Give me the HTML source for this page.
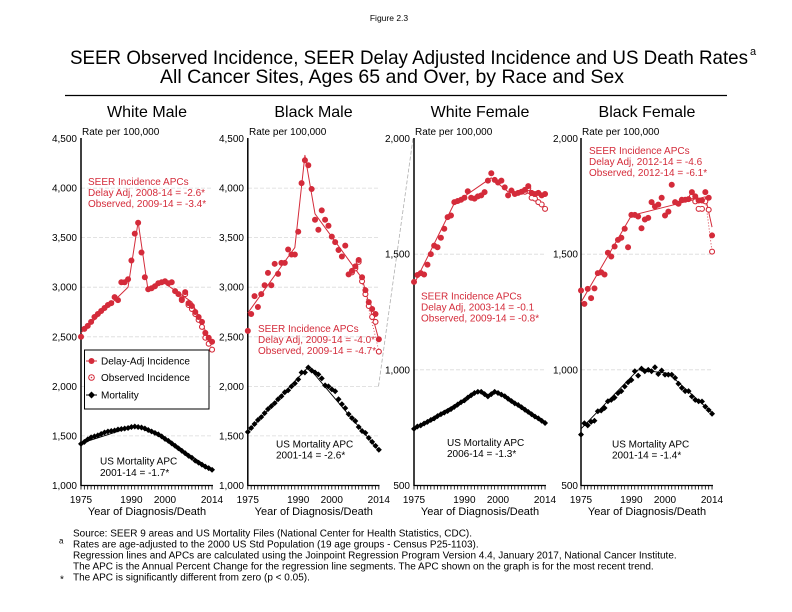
<!DOCTYPE html>
<html><head><meta charset="utf-8"><style>
html,body{margin:0;padding:0;background:#fff;}
svg{display:block;font-family:"Liberation Sans",Arial,sans-serif;}
.r{fill:#d42b3a}
.d{fill:none;stroke-linecap:round;vector-effect:non-scaling-stroke}
.q{fill:none;stroke-linecap:square;vector-effect:non-scaling-stroke}
.l{fill:none;vector-effect:non-scaling-stroke;stroke-linejoin:round}
.g{stroke:#d9d9d9;stroke-width:0.8;stroke-dasharray:4 2}
</style></head><body>
<svg width="792" height="612" viewBox="0 0 792 612" xmlns="http://www.w3.org/2000/svg">
<rect width="792" height="612" fill="#fff"/>
<text x="389" y="21" font-size="8.5" text-anchor="middle">Figure 2.3</text>
<text x="70" y="64" font-size="19.5" textLength="678" lengthAdjust="spacingAndGlyphs">SEER Observed Incidence, SEER Delay Adjusted Incidence and US Death Rates</text>
<text x="750" y="55" font-size="11">a</text>
<text x="392" y="83" font-size="19.5" text-anchor="middle">All Cancer Sites, Ages 65 and Over, by Race and Sex</text>
<line x1="65" y1="95.5" x2="727" y2="95.5" stroke="#000" stroke-width="1.2"/>

<!-- ============ PANEL 1 White Male ============ -->
<text x="147" y="117" font-size="16" text-anchor="middle">White Male</text>
<text x="82" y="135" font-size="10">Rate per 100,000</text>
<g font-size="10" text-anchor="end">
<text x="77" y="142">4,500</text><text x="77" y="191.6">4,000</text><text x="77" y="241.1">3,500</text><text x="77" y="290.7">3,000</text><text x="77" y="340.3">2,500</text><text x="77" y="389.9">2,000</text><text x="77" y="439.4">1,500</text><text x="77" y="489">1,000</text>
</g>
<g class="g"><line x1="81" x2="213" y1="188.1" y2="188.1"/><line x1="81" x2="213" y1="237.6" y2="237.6"/><line x1="81" x2="213" y1="287.2" y2="287.2"/><line x1="81" x2="213" y1="336.8" y2="336.8"/><line x1="81" x2="213" y1="386.4" y2="386.4"/><line x1="81" x2="213" y1="435.9" y2="435.9"/></g>
<line x1="81" y1="138" x2="81" y2="486" stroke="#000" stroke-width="1.5"/>
<line x1="81" y1="485.5" x2="213" y2="485.5" stroke="#000" stroke-width="1.2"/>
<line x1="80.6" y1="487.5" x2="213.4" y2="487.5" stroke="#000" stroke-width="4" stroke-dasharray="0.8 2.56"/>
<g font-size="10" text-anchor="middle"><text x="81" y="503">1975</text><text x="131.4" y="503">1990</text><text x="165" y="503">2000</text><text x="212" y="503">2014</text></g>
<text x="147" y="515" font-size="11" text-anchor="middle">Year of Diagnosis/Death</text>
<g font-size="10" class="r"><text x="88" y="185">SEER Incidence APCs</text><text x="88" y="196">Delay Adj, 2008-14 = -2.6*</text><text x="88" y="207">Observed, 2009-14 = -3.4*</text></g>
<g font-size="10"><text x="100" y="464.5">US Mortality APC</text><text x="100" y="476">2001-14 = -1.7*</text></g>
<g transform="translate(-6555,584.64) scale(3.36,-0.099143)">
<path class="l" stroke="#d42b3a" stroke-width="1" d="M1975 2540L1989 3000L1992 3660L1995 2960L1999 3060L2008 2850L2014 2420"/>
<path class="l" stroke="#d42b3a" stroke-width="0.8" stroke-dasharray="1 2" d="M2009 2740L2014 2380"/>
<path class="l" stroke="#000" stroke-width="0.9" d="M1975 1425L1990 1590L1993 1585L2001 1450L2014 1160"/>
<path class="d" stroke="#d42b3a" stroke-width="6" d="M2005 2870h.01M2006 2930h.01M2007 2820h.01M2008 2780h.01M2009 2730h.01M2010 2670h.01M2011 2600h.01M2012 2490h.01M2013 2430h.01M2014 2370h.01"/>
<path class="d" stroke="#fff" stroke-width="3.8" d="M2005 2870h.01M2006 2930h.01M2007 2820h.01M2008 2780h.01M2009 2730h.01M2010 2670h.01M2011 2600h.01M2012 2490h.01M2013 2430h.01M2014 2370h.01"/>
<path class="d" stroke="#d42b3a" stroke-width="6" d="M1975 2500h.01M1976 2580h.01M1977 2610h.01M1978 2650h.01M1979 2700h.01M1980 2730h.01M1981 2760h.01M1982 2790h.01M1983 2820h.01M1984 2840h.01M1985 2900h.01M1986 2870h.01M1987 3050h.01M1988 3050h.01M1989 3080h.01M1990 3270h.01M1991 3540h.01M1992 3650h.01M1993 3350h.01M1994 3100h.01M1995 2980h.01M1996 2990h.01M1997 3010h.01M1998 3040h.01M1999 3050h.01M2000 3060h.01M2001 3040h.01M2002 3050h.01M2003 2960h.01M2004 2930h.01M2005 2880h.01M2006 2950h.01M2007 2840h.01M2008 2810h.01M2009 2750h.01M2010 2700h.01M2011 2650h.01M2012 2540h.01M2013 2490h.01M2014 2450h.01"/>
<path class="q" stroke="#000" stroke-width="4.2" d="M1975 1420l.01 .339M1976 1440l.01 .339M1977 1465l.01 .339M1978 1485l.01 .339M1979 1495l.01 .339M1980 1505l.01 .339M1981 1520l.01 .339M1982 1535l.01 .339M1983 1545l.01 .339M1984 1550l.01 .339M1985 1555l.01 .339M1986 1565l.01 .339M1987 1570l.01 .339M1988 1575l.01 .339M1989 1580l.01 .339M1990 1590l.01 .339M1991 1595l.01 .339M1992 1590l.01 .339M1993 1585l.01 .339M1994 1575l.01 .339M1995 1560l.01 .339M1996 1545l.01 .339M1997 1530l.01 .339M1998 1515l.01 .339M1999 1495l.01 .339M2000 1470l.01 .339M2001 1450l.01 .339M2002 1425l.01 .339M2003 1400l.01 .339M2004 1375l.01 .339M2005 1350l.01 .339M2006 1325l.01 .339M2007 1300l.01 .339M2008 1280l.01 .339M2009 1250l.01 .339M2010 1230l.01 .339M2011 1210l.01 .339M2012 1190l.01 .339M2013 1175l.01 .339M2014 1158l.01 .339"/>
</g>
<!-- legend -->
<rect x="84.5" y="350" width="124.5" height="59" fill="#fff" stroke="#000" stroke-width="1"/>
<line x1="86" y1="361" x2="97" y2="361" stroke="#d42b3a" stroke-width="1"/>
<circle cx="91.5" cy="361" r="3" fill="#d42b3a"/>
<circle cx="91.5" cy="377.5" r="2.8" fill="#fff" stroke="#d42b3a" stroke-width="1"/>
<circle cx="91.5" cy="377.5" r="0.8" fill="#d42b3a"/>
<line x1="86" y1="395" x2="97" y2="395" stroke="#000" stroke-width="1"/>
<path d="M91.5 391.5L95 395L91.5 398.5L88 395Z" fill="#000"/>
<g font-size="10"><text x="101" y="364.5">Delay-Adj Incidence</text><text x="101" y="381">Observed Incidence</text><text x="101" y="398.5">Mortality</text></g>

<!-- ============ PANEL 2 Black Male ============ -->
<text x="313.5" y="117" font-size="16" text-anchor="middle">Black Male</text>
<text x="249" y="135" font-size="10">Rate per 100,000</text>
<g font-size="10" text-anchor="end">
<text x="244" y="142">4,500</text><text x="244" y="191.6">4,000</text><text x="244" y="241.1">3,500</text><text x="244" y="290.7">3,000</text><text x="244" y="340.3">2,500</text><text x="244" y="389.9">2,000</text><text x="244" y="439.4">1,500</text><text x="244" y="489">1,000</text>
</g>
<g class="g"><line x1="248" x2="379" y1="188.1" y2="188.1"/><line x1="248" x2="379" y1="237.6" y2="237.6"/><line x1="248" x2="379" y1="287.2" y2="287.2"/><line x1="248" x2="379" y1="336.8" y2="336.8"/><line x1="248" x2="379" y1="386.4" y2="386.4"/><line x1="248" x2="379" y1="435.9" y2="435.9"/></g>
<line x1="378.5" y1="386.4" x2="413" y2="138.5" stroke="#b0b0b0" stroke-width="0.8" stroke-dasharray="4 2"/>
<line x1="247.8" y1="138" x2="247.8" y2="486" stroke="#000" stroke-width="1.5"/>
<line x1="247.8" y1="485.5" x2="379.5" y2="485.5" stroke="#000" stroke-width="1.2"/>
<line x1="247.4" y1="487.5" x2="380.2" y2="487.5" stroke="#000" stroke-width="4" stroke-dasharray="0.8 2.56"/>
<g font-size="10" text-anchor="middle"><text x="247.8" y="503">1975</text><text x="298.2" y="503">1990</text><text x="331.8" y="503">2000</text><text x="378.8" y="503">2014</text></g>
<text x="313.8" y="515" font-size="11" text-anchor="middle">Year of Diagnosis/Death</text>
<g font-size="10" class="r"><text x="258" y="332">SEER Incidence APCs</text><text x="258" y="343">Delay Adj, 2009-14 = -4.0*</text><text x="258" y="354">Observed, 2009-14 = -4.7*</text></g>
<g font-size="10"><text x="276" y="447.5">US Mortality APC</text><text x="276" y="458.5">2001-14 = -2.6*</text></g>
<g transform="translate(-6388.2,584.64) scale(3.36,-0.099143)">
<path class="l" stroke="#d42b3a" stroke-width="1" d="M1975 2740L1989 3400L1992 4330L1995 3740L2009 3090L2014 2470"/>
<path class="l" stroke="#d42b3a" stroke-width="0.8" stroke-dasharray="1 2" d="M2009 3060L2014 2360"/>
<path class="l" stroke="#000" stroke-width="0.9" d="M1975 1545L1993 2195L2014 1355"/>
<path class="d" stroke="#d42b3a" stroke-width="6" d="M2006 3150h.01M2007 3190h.01M2008 3255h.01M2009 3060h.01M2010 2930h.01M2011 2810h.01M2012 2700h.01M2013 2650h.01M2014 2350h.01"/>
<path class="d" stroke="#fff" stroke-width="3.8" d="M2006 3150h.01M2007 3190h.01M2008 3255h.01M2009 3060h.01M2010 2930h.01M2011 2810h.01M2012 2700h.01M2013 2650h.01M2014 2350h.01"/>
<path class="d" stroke="#d42b3a" stroke-width="6" d="M1975 2560h.01M1976 2730h.01M1977 2910h.01M1978 2800h.01M1979 2930h.01M1980 3020h.01M1981 3145h.01M1982 3020h.01M1983 3236h.01M1984 3135h.01M1985 3245h.01M1986 3245h.01M1987 3380h.01M1988 3330h.01M1989 3330h.01M1990 3560h.01M1991 4050h.01M1992 4280h.01M1993 4230h.01M1994 3990h.01M1995 3680h.01M1996 3580h.01M1997 3775h.01M1998 3680h.01M1999 3620h.01M2000 3510h.01M2001 3455h.01M2002 3375h.01M2003 3310h.01M2004 3420h.01M2005 3130h.01M2006 3165h.01M2007 3210h.01M2008 3275h.01M2009 3100h.01M2010 2970h.01M2011 2850h.01M2012 2780h.01M2013 2730h.01M2014 2475h.01"/>
<path class="q" stroke="#000" stroke-width="4.2" d="M1975 1540l.01 .339M1976 1580l.01 .339M1977 1620l.01 .339M1978 1660l.01 .339M1979 1690l.01 .339M1980 1730l.01 .339M1981 1770l.01 .339M1982 1800l.01 .339M1983 1830l.01 .339M1984 1870l.01 .339M1985 1900l.01 .339M1986 1940l.01 .339M1987 1960l.01 .339M1988 2000l.01 .339M1989 2030l.01 .339M1990 2070l.01 .339M1991 2140l.01 .339M1992 2140l.01 .339M1993 2190l.01 .339M1994 2160l.01 .339M1995 2140l.01 .339M1996 2120l.01 .339M1997 2080l.01 .339M1998 2010l.01 .339M1999 2000l.01 .339M2000 1970l.01 .339M2001 1950l.01 .339M2002 1870l.01 .339M2003 1820l.01 .339M2004 1780l.01 .339M2005 1720l.01 .339M2006 1680l.01 .339M2007 1650l.01 .339M2008 1590l.01 .339M2009 1550l.01 .339M2010 1530l.01 .339M2011 1480l.01 .339M2012 1440l.01 .339M2013 1400l.01 .339M2014 1360l.01 .339"/>
</g>

<!-- ============ PANEL 3 White Female ============ -->
<text x="480" y="117" font-size="16" text-anchor="middle">White Female</text>
<text x="415" y="135" font-size="10">Rate per 100,000</text>
<g font-size="10" text-anchor="end"><text x="410" y="142">2,000</text><text x="410" y="257.7">1,500</text><text x="410" y="373.3">1,000</text><text x="410" y="489">500</text></g>
<g class="g"><line x1="414" x2="546" y1="254.2" y2="254.2"/><line x1="414" x2="546" y1="369.8" y2="369.8"/></g>
<line x1="414" y1="138" x2="414" y2="486" stroke="#000" stroke-width="1.5"/>
<line x1="414" y1="485.5" x2="546" y2="485.5" stroke="#000" stroke-width="1.2"/>
<line x1="413.6" y1="487.5" x2="546.4" y2="487.5" stroke="#000" stroke-width="4" stroke-dasharray="0.8 2.56"/>
<g font-size="10" text-anchor="middle"><text x="414" y="503">1975</text><text x="464.4" y="503">1990</text><text x="498" y="503">2000</text><text x="545" y="503">2014</text></g>
<text x="480" y="515" font-size="11" text-anchor="middle">Year of Diagnosis/Death</text>
<g font-size="10" class="r"><text x="421" y="299.5">SEER Incidence APCs</text><text x="421" y="310.5">Delay Adj, 2003-14 = -0.1</text><text x="421" y="321.5">Observed, 2009-14 = -0.8*</text></g>
<g font-size="10"><text x="447" y="446">US Mortality APC</text><text x="447" y="457">2006-14 = -1.3*</text></g>
<g transform="translate(-6222,601.17) scale(3.36,-0.23133)">
<path class="l" stroke="#d42b3a" stroke-width="1" d="M1975 1370L1987 1720L1998 1830L2003 1770L2014 1758"/>
<path class="l" stroke="#d42b3a" stroke-width="0.8" stroke-dasharray="1 2" d="M2009 1780L2014 1700"/>
<path class="l" stroke="#000" stroke-width="0.9" d="M1975 748L1994 906L1997 888L2000 905L2006 850L2014 770"/>
<path class="d" stroke="#d42b3a" stroke-width="6" d="M2008 1770h.01M2009 1785h.01M2010 1744h.01M2011 1740h.01M2012 1725h.01M2013 1715h.01M2014 1696h.01"/>
<path class="d" stroke="#fff" stroke-width="3.8" d="M2008 1770h.01M2009 1785h.01M2010 1744h.01M2011 1740h.01M2012 1725h.01M2013 1715h.01M2014 1696h.01"/>
<path class="d" stroke="#d42b3a" stroke-width="6" d="M1975 1380h.01M1976 1410h.01M1977 1418h.01M1978 1412h.01M1979 1455h.01M1980 1500h.01M1981 1537h.01M1982 1530h.01M1983 1571h.01M1984 1610h.01M1985 1660h.01M1986 1667h.01M1987 1725h.01M1988 1730h.01M1989 1735h.01M1990 1744h.01M1991 1772h.01M1992 1744h.01M1993 1740h.01M1994 1750h.01M1995 1754h.01M1996 1768h.01M1997 1818h.01M1998 1850h.01M1999 1821h.01M2000 1810h.01M2001 1818h.01M2002 1789h.01M2003 1754h.01M2004 1775h.01M2005 1760h.01M2006 1765h.01M2007 1770h.01M2008 1778h.01M2009 1794h.01M2010 1765h.01M2011 1760h.01M2012 1765h.01M2013 1754h.01M2014 1760h.01"/>
<path class="q" stroke="#000" stroke-width="4.2" d="M1975 745l.01 .1452M1976 755l.01 .1452M1977 760l.01 .1452M1978 768l.01 .1452M1979 775l.01 .1452M1980 783l.01 .1452M1981 790l.01 .1452M1982 800l.01 .1452M1983 808l.01 .1452M1984 815l.01 .1452M1985 822l.01 .1452M1986 830l.01 .1452M1987 840l.01 .1452M1988 850l.01 .1452M1989 860l.01 .1452M1990 868l.01 .1452M1991 880l.01 .1452M1992 890l.01 .1452M1993 900l.01 .1452M1994 905l.01 .1452M1995 905l.01 .1452M1996 895l.01 .1452M1997 885l.01 .1452M1998 895l.01 .1452M1999 905l.01 .1452M2000 900l.01 .1452M2001 893l.01 .1452M2002 886l.01 .1452M2003 875l.01 .1452M2004 865l.01 .1452M2005 855l.01 .1452M2006 848l.01 .1452M2007 838l.01 .1452M2008 828l.01 .1452M2009 818l.01 .1452M2010 808l.01 .1452M2011 798l.01 .1452M2012 790l.01 .1452M2013 780l.01 .1452M2014 770l.01 .1452"/>
</g>

<!-- ============ PANEL 4 Black Female ============ -->
<text x="647" y="117" font-size="16" text-anchor="middle">Black Female</text>
<text x="582" y="135" font-size="10">Rate per 100,000</text>
<g font-size="10" text-anchor="end"><text x="578" y="142">2,000</text><text x="578" y="257.7">1,500</text><text x="578" y="373.3">1,000</text><text x="578" y="489">500</text></g>
<g class="g"><line x1="581" x2="713" y1="254.2" y2="254.2"/><line x1="581" x2="713" y1="369.8" y2="369.8"/></g>
<line x1="581" y1="138" x2="581" y2="486" stroke="#000" stroke-width="1.5"/>
<line x1="581" y1="485.5" x2="713" y2="485.5" stroke="#000" stroke-width="1.2"/>
<line x1="580.6" y1="487.5" x2="713.4" y2="487.5" stroke="#000" stroke-width="4" stroke-dasharray="0.8 2.56"/>
<g font-size="10" text-anchor="middle"><text x="581" y="503">1975</text><text x="631.4" y="503">1990</text><text x="665" y="503">2000</text><text x="712" y="503">2014</text></g>
<text x="647" y="515" font-size="11" text-anchor="middle">Year of Diagnosis/Death</text>
<g font-size="10" class="r"><text x="589" y="154">SEER Incidence APCs</text><text x="589" y="165">Delay Adj, 2012-14 = -4.6</text><text x="589" y="176">Observed, 2012-14 = -6.1*</text></g>
<g font-size="10"><text x="612" y="447.5">US Mortality APC</text><text x="612" y="458.5">2001-14 = -1.4*</text></g>
<g transform="translate(-6055,601.17) scale(3.36,-0.23133)">
<path class="l" stroke="#d42b3a" stroke-width="1" d="M1975 1292L1990 1667L2012 1748L2014 1617"/>
<path class="l" stroke="#d42b3a" stroke-width="0.9" stroke-dasharray="1 2" d="M2012 1740L2014 1510"/>
<path class="l" stroke="#000" stroke-width="0.9" d="M1975 745L1992 1000L2001 985L2014 815"/>
<path class="d" stroke="#d42b3a" stroke-width="6" d="M2008 1750h.01M2009 1728h.01M2010 1696h.01M2011 1696h.01M2012 1728h.01M2013 1692h.01M2014 1511h.01"/>
<path class="d" stroke="#fff" stroke-width="3.8" d="M2008 1750h.01M2009 1728h.01M2010 1696h.01M2011 1696h.01M2012 1728h.01M2013 1692h.01M2014 1511h.01"/>
<path class="d" stroke="#d42b3a" stroke-width="6" d="M1975 1343h.01M1976 1285h.01M1977 1350h.01M1978 1310h.01M1979 1352h.01M1980 1418h.01M1981 1422h.01M1982 1412h.01M1983 1506h.01M1984 1490h.01M1985 1533h.01M1986 1562h.01M1987 1571h.01M1988 1610h.01M1989 1530h.01M1990 1670h.01M1991 1670h.01M1992 1663h.01M1993 1612h.01M1994 1650h.01M1995 1657h.01M1996 1725h.01M1997 1706h.01M1998 1714h.01M1999 1744h.01M2000 1667h.01M2001 1684h.01M2002 1800h.01M2003 1725h.01M2004 1718h.01M2005 1735h.01M2006 1735h.01M2007 1738h.01M2008 1768h.01M2009 1750h.01M2010 1732h.01M2011 1732h.01M2012 1768h.01M2013 1744h.01M2014 1581h.01"/>
<path class="q" stroke="#000" stroke-width="4.2" d="M1975 720l.01 .1452M1976 769l.01 .1452M1977 760l.01 .1452M1978 775l.01 .1452M1979 780l.01 .1452M1980 821l.01 .1452M1981 824l.01 .1452M1982 835l.01 .1452M1983 864l.01 .1452M1984 870l.01 .1452M1985 880l.01 .1452M1986 899l.01 .1452M1987 908l.01 .1452M1988 928l.01 .1452M1989 946l.01 .1452M1990 956l.01 .1452M1991 994l.01 .1452M1992 975l.01 .1452M1993 1005l.01 .1452M1994 994l.01 .1452M1995 1000l.01 .1452M1996 994l.01 .1452M1997 1011l.01 .1452M1998 982l.01 .1452M1999 997l.01 .1452M2000 979l.01 .1452M2001 979l.01 .1452M2002 979l.01 .1452M2003 965l.01 .1452M2004 940l.01 .1452M2005 922l.01 .1452M2006 908l.01 .1452M2007 908l.01 .1452M2008 885l.01 .1452M2009 870l.01 .1452M2010 864l.01 .1452M2011 863l.01 .1452M2012 841l.01 .1452M2013 826l.01 .1452M2014 810l.01 .1452"/>
</g>

<!-- footnotes -->
<g font-size="10">
<text x="73" y="536.5">Source: SEER 9 areas and US Mortality Files (National Center for Health Statistics, CDC).</text>
<text x="59" y="543.5" font-size="8">a</text>
<text x="73" y="547.5">Rates are age-adjusted to the 2000 US Std Population (19 age groups - Census P25-1103).</text>
<text x="73" y="558.5">Regression lines and APCs are calculated using the Joinpoint Regression Program Version 4.4, January 2017, National Cancer Institute.</text>
<text x="73" y="569.5">The APC is the Annual Percent Change for the regression line segments. The APC shown on the graph is for the most recent trend.</text>
<text x="60" y="582.5">*</text>
<text x="73" y="580.5">The APC is significantly different from zero (p &lt; 0.05).</text>
</g>
</svg>
</body></html>
